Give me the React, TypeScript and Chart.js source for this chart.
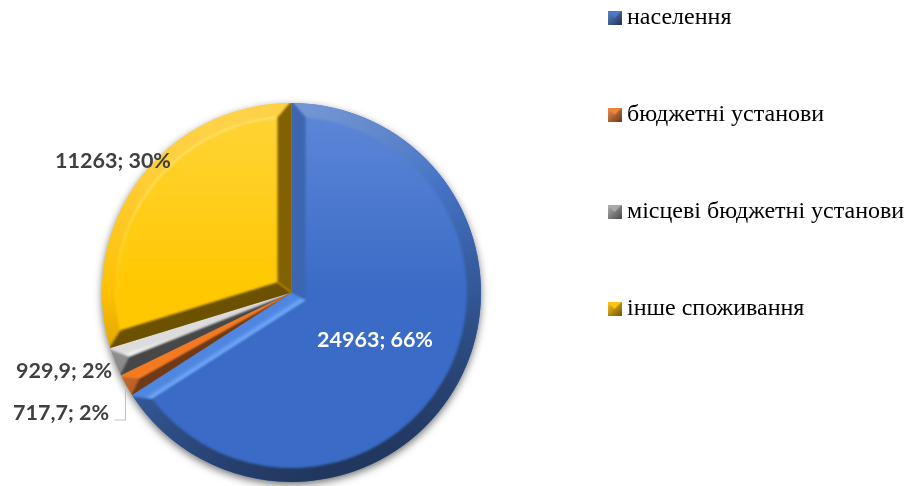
import React, { useEffect, useRef } from "react";
import { Chart, registerables } from "chart.js";

Chart.register(...registerables);

const categories = ["населення", "бюджетні установи", "місцеві бюджетні установи", "інше споживання"];
const values = [24963, 717.7, 929.9, 11263];
const valueLabels = ["24963", "717,7", "929,9", "11263"];
const percentLabels = ["66%", "2%", "2%", "30%"];
const baseColors = ["#4472c4", "#ed7d31", "#a5a5a5", "#ffc000"];
const faceTop = ["#5f88d8", "#f58a3c", "#b5b5b5", "#ffd43a"];
const faceBottom = ["#3a6bc6", "#ed7d31", "#a5a5a5", "#ffc800"];
const labelColors = ["#ffffff", "#404040", "#404040", "#404040"];
const labelOffsets = [[83.5, 47.5], [-230.5, 120.5], [-227.5, 78.5], [-178.5, -131.5]];
const edgeLitStart = ["#4f86e0", "#f47a20", "#dcdcdc", "#ffd84a"];
const edgeLitEnd = ["#7ab2ff", "#ff8a30", "#ffffff", "#ffe680"];
const edgeDark = [-0.14, -0.42, -0.45, -0.46];
const BEVEL = 14;

function hexRgb(h: string) {
  return [parseInt(h.slice(1, 3), 16), parseInt(h.slice(3, 5), 16), parseInt(h.slice(5, 7), 16)];
}
function shade(hex: string, f: number) {
  const c = hexRgb(hex);
  const t = f > 0 ? 255 : 0;
  const a = Math.min(1, Math.abs(f));
  return `rgb(${c.map((v) => Math.round(v + (t - v) * a)).join(",")})`;
}
function lit(nx: number, ny: number) {
  return nx * -0.3 + ny * -0.95;
}
function light(nx: number, ny: number) {
  return (lit(nx, ny) - 0.3) * 0.4;
}
function swatch(hex: string) {
  const c = document.createElement("canvas");
  c.width = 14;
  c.height = 14;
  const g = c.getContext("2d")!;
  const grad = g.createLinearGradient(0, 0, 14, 14);
  grad.addColorStop(0, shade(hex, 0.15));
  grad.addColorStop(1, shade(hex, -0.55));
  g.fillStyle = grad;
  g.fillRect(0, 0, 14, 14);
  g.fillStyle = shade(hex, 0.05);
  g.beginPath();
  g.moveTo(0, 0);
  g.lineTo(14, 0);
  g.lineTo(7, 7);
  g.closePath();
  g.fill();
  return c;
}

const legendLayout = {
  id: "legendLayout",
  beforeLayout(chart: any) {
    const l = chart.legend;
    if (l.__wrapped) return;
    l.__wrapped = true;
    const update = l.update.bind(l);
    l.update = (w: number, _h: number, m: any) => {
      update(w, 1000, m);
      l.width = 428;
    };
  },
  afterLayout(chart: any) {
    const l = chart.legend;
    const pad = l.options.labels.padding;
    const left = 614 - pad;
    const top = 6 - pad;
    l.left = left;
    l.right = left + 428;
    l.top = top;
    l.bottom = 2000;
  },
};

const shadowPlugin = {
  id: "shadowPlugin",
  beforeDatasetsDraw(chart: any) {
    const a = chart.getDatasetMeta(0).data[0];
    const { ctx } = chart;
    ctx.save();
    ctx.shadowColor = "rgba(0,0,0,0.6)";
    ctx.shadowBlur = 8;
    ctx.shadowOffsetY = 3;
    ctx.fillStyle = "#444";
    ctx.beginPath();
    ctx.arc(a.x, a.y, a.outerRadius - 0.5, 0, Math.PI * 2);
    ctx.fill();
    ctx.restore();
  },
};

const bevelPlugin = {
  id: "bevelPlugin",
  afterDatasetsDraw(chart: any) {
    const { ctx } = chart;
    chart.getDatasetMeta(0).data.forEach((arc: any, i: number) => {
      const { x, y, startAngle: s, endAngle: e, outerRadius: r } = arc;
      const hex = baseColors[i];
      const theta = e - s;
      const mid = (s + e) / 2;
      const inner = r - BEVEL;
      let apexD = BEVEL / Math.sin(theta / 2);
      let delta = Math.asin(BEVEL / inner);
      const small = apexD > inner - 1;
      if (small) {
        apexD = inner - 1;
        delta = theta / 2;
      }
      const ax = x + apexD * Math.cos(mid);
      const ay = y + apexD * Math.sin(mid);
      const pt = (ang: number, rad: number) => [x + rad * Math.cos(ang), y + rad * Math.sin(ang)];
      ctx.save();
      ctx.beginPath();
      ctx.moveTo(x, y);
      ctx.arc(x, y, r, s, e);
      ctx.closePath();
      ctx.clip();
      ctx.filter = "blur(1px)";
      const grad = ctx.createConicGradient(0, x, y);
      const high = ctx.createConicGradient(0, x, y);
      for (let k = 0; k <= 72; k++) {
        const t = (k / 72) * Math.PI * 2;
        const c = Math.cos(t);
        const n = Math.sin(t);
        const f = light(c, n);
        grad.addColorStop(k / 72, shade(hex, f));
        const h = Math.max(0, lit(c, n));
        high.addColorStop(k / 72, `rgba(255,255,170,${(h * 0.45).toFixed(3)})`);
      }
      ctx.fillStyle = grad;
      ctx.beginPath();
      ctx.arc(x, y, r + 2, s, e);
      if (small) {
        ctx.lineTo(ax, ay);
      } else {
        ctx.arc(x, y, inner, e - delta, s + delta, true);
      }
      ctx.closePath();
      ctx.fill();
      if (!small && i === 3) {
        ctx.strokeStyle = high;
        ctx.lineWidth = 2;
        ctx.beginPath();
        ctx.arc(x, y, inner, s + delta, e - delta);
        ctx.stroke();
      }
      const edge = (ang: number, sign: number, cAng: number) => {
        const nx = Math.cos(ang + (sign * Math.PI) / 2);
        const ny = Math.sin(ang + (sign * Math.PI) / 2);
        const o = pt(ang, r + 2);
        const c = small ? [ax, ay] : pt(cAng, inner);
        if (lit(nx, ny) > 0.4) {
          const g = ctx.createLinearGradient(x, y, x - nx * BEVEL, y - ny * BEVEL);
          g.addColorStop(0, edgeLitStart[i]);
          g.addColorStop(0.55, edgeLitStart[i]);
          g.addColorStop(1, edgeLitEnd[i]);
          ctx.fillStyle = g;
        } else {
          ctx.fillStyle = shade(hex, edgeDark[i] + lit(nx, ny) * 0.12);
        }
        ctx.beginPath();
        ctx.moveTo(x + nx * 2, y + ny * 2);
        ctx.lineTo(o[0] + nx * 2, o[1] + ny * 2);
        ctx.lineTo(o[0], o[1]);
        ctx.lineTo(c[0], c[1]);
        ctx.lineTo(ax, ay);
        ctx.lineTo(x, y);
        ctx.closePath();
        ctx.fill();
      };
      edge(s, -1, s + delta);
      edge(e, 1, e - delta);
      ctx.restore();
    });
  },
};

const labelPlugin = {
  id: "labelPlugin",
  afterDraw(chart: any) {
    const { ctx } = chart;
    const meta = chart.getDatasetMeta(0).data;
    ctx.save();
    ctx.font = "bold 21.5px Lato";
    ctx.textAlign = "center";
    ctx.textBaseline = "middle";
    meta.forEach((arc: any, i: number) => {
      ctx.fillStyle = labelColors[i];
      ctx.fillText(`${valueLabels[i]}; ${percentLabels[i]}`, arc.x + labelOffsets[i][0], arc.y + labelOffsets[i][1]);
    });
    const a = meta[1];
    ctx.strokeStyle = "#bfbfbf";
    ctx.lineWidth = 1;
    ctx.beginPath();
    ctx.moveTo(a.x - 166, a.y + 97);
    ctx.lineTo(a.x - 166, a.y + 127.5);
    ctx.lineTo(a.x - 177, a.y + 127.5);
    ctx.stroke();
    ctx.restore();
  },
};

export default function App() {
  const ref = useRef<HTMLCanvasElement>(null);
  useEffect(() => {
    document.body.style.margin = "0";
    const chart = new Chart(ref.current!, {
      type: "pie",
      data: {
        labels: categories,
        datasets: [
          {
            data: values,
            borderWidth: 0,
            backgroundColor: (c: any) => {
              const area = c.chart.chartArea;
              if (!area) return baseColors[c.dataIndex];
              const g = c.chart.ctx.createLinearGradient(0, area.top, 0, area.bottom);
              g.addColorStop(0, faceTop[c.dataIndex]);
              g.addColorStop(0.5, faceBottom[c.dataIndex]);
              g.addColorStop(1, faceBottom[c.dataIndex]);
              return g;
            },
          },
        ],
      },
      options: {
        animation: false,
        responsive: false,
        layout: { padding: { left: 102, top: 103, bottom: 4, right: 0 } },
        plugins: {
          tooltip: { enabled: false },
          legend: {
            position: "right",
            align: "start",
            labels: {
              usePointStyle: true,
              pointStyleWidth: 1,
              padding: 73,
              color: "#111111",
              font: { family: "'Liberation Serif'", size: 24 },
              generateLabels: () =>
                categories.map((text, i) => ({
                  text,
                  index: i,
                  hidden: false,
                  fillStyle: baseColors[i],
                  strokeStyle: baseColors[i],
                  lineWidth: 0,
                  pointStyle: swatch(baseColors[i]),
                })),
            },
          },
        },
      } as any,
      plugins: [legendLayout, shadowPlugin, bevelPlugin, labelPlugin],
    });
    return () => chart.destroy();
  }, []);
  return <canvas ref={ref} width={909} height={486} style={{ display: "block" }} />;
}
